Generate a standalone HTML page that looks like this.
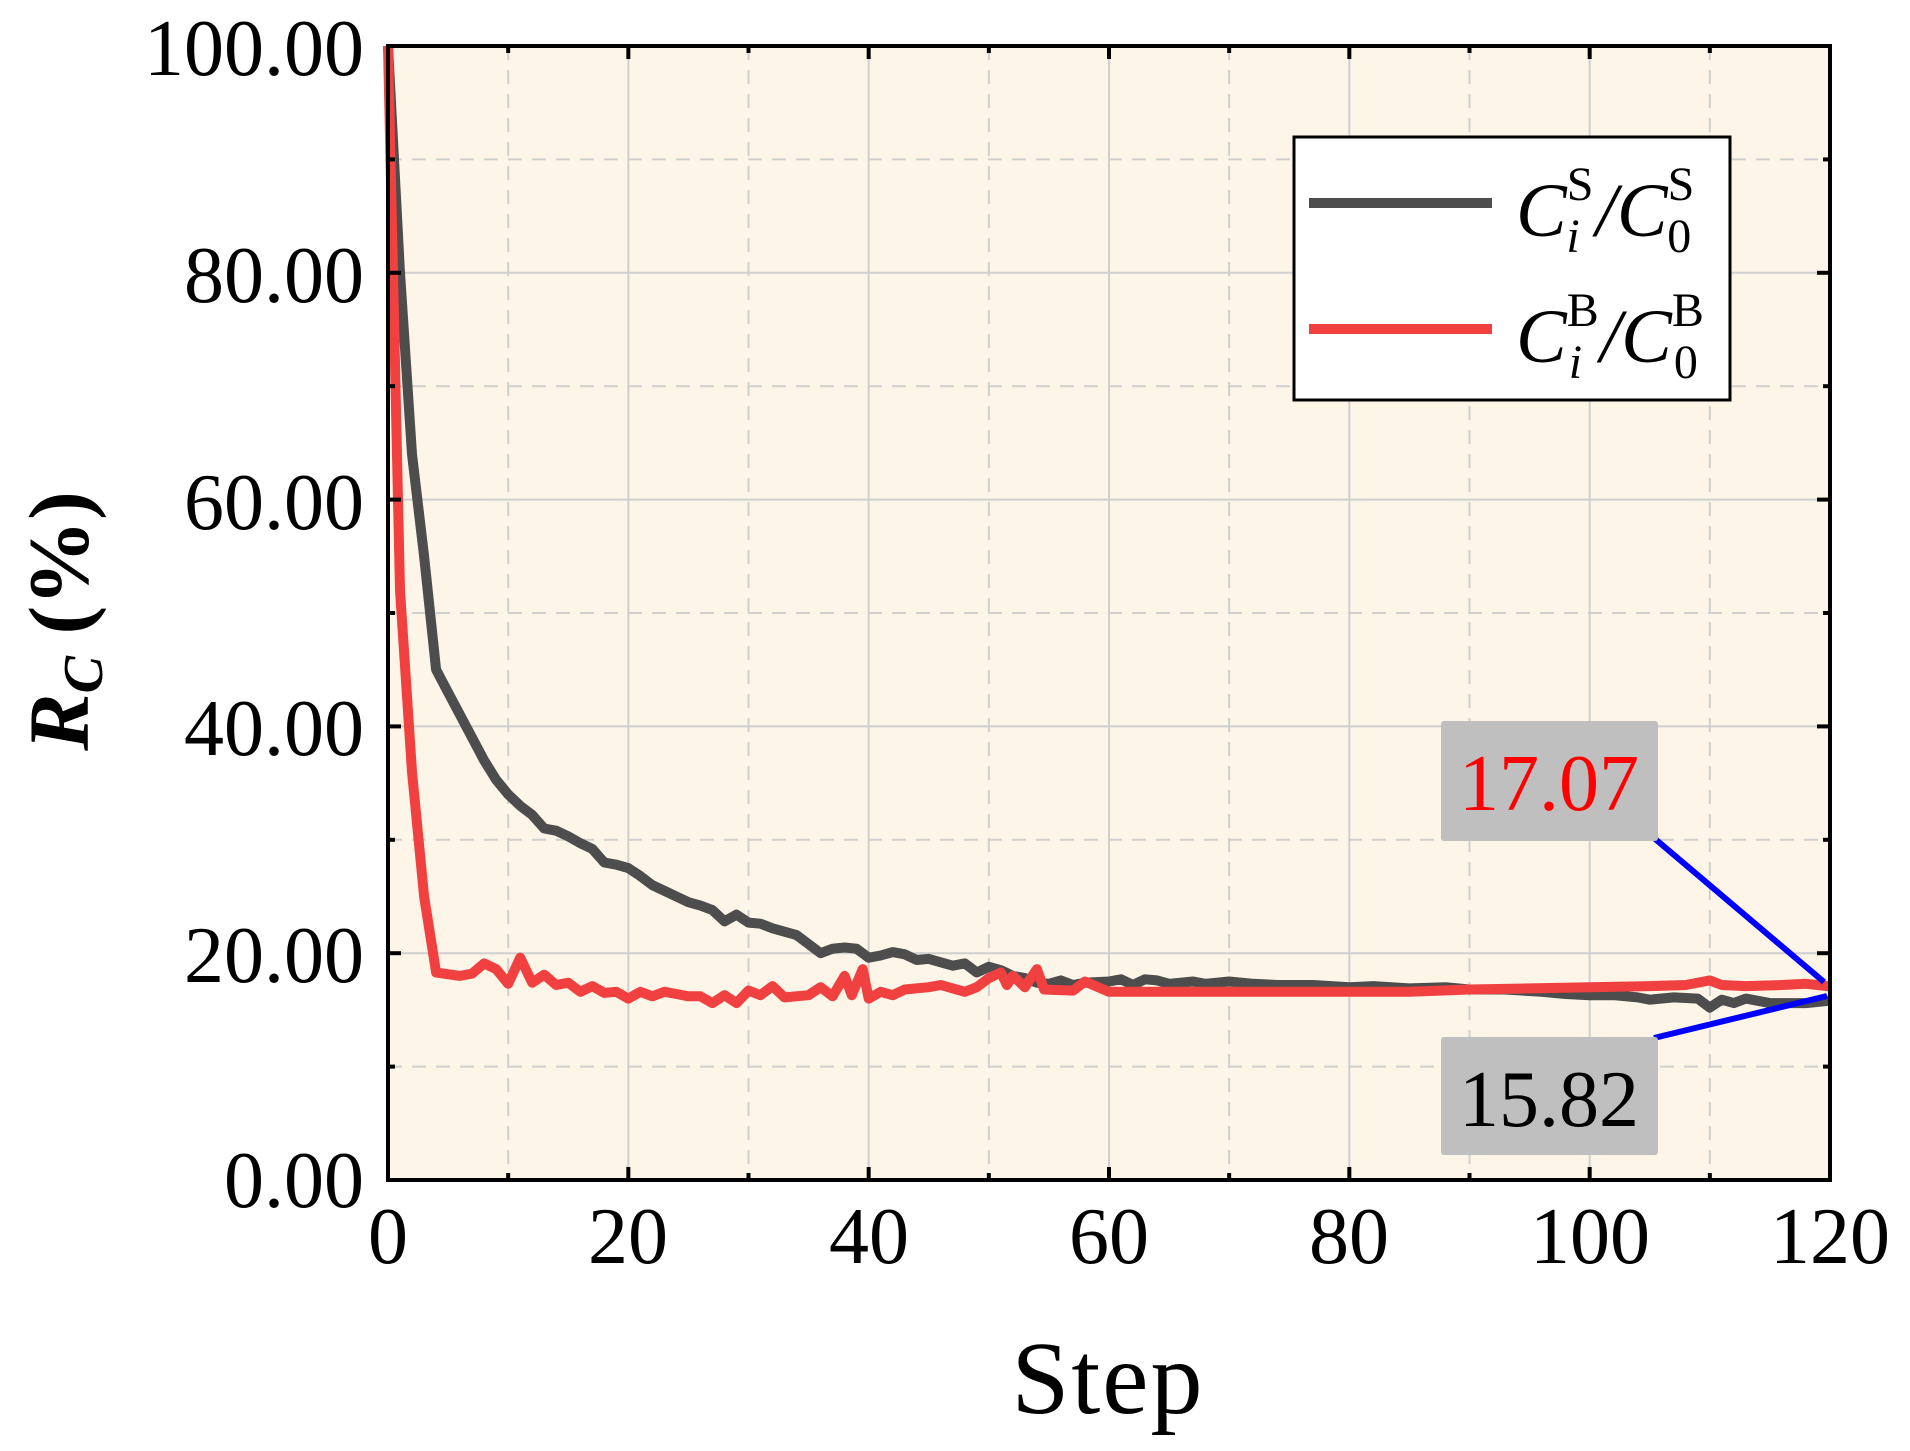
<!DOCTYPE html>
<html><head><meta charset="utf-8"><style>
html,body{margin:0;padding:0;background:#fff;}
svg{display:block;font-family:"Liberation Serif",serif;}
</style></head><body>
<svg id="s" width="1910" height="1451" viewBox="0 0 1910 1451" xmlns="http://www.w3.org/2000/svg">
<rect x="388" y="46" width="1442" height="1134" fill="#fdf6e8"/>
<g id="grid"></g>
<g id="series"></g>
<rect x="1294" y="137" width="436" height="263" fill="#fff" stroke="#000" stroke-width="3"/>
<line x1="1309" y1="203" x2="1492" y2="203" stroke="#4d4d4d" stroke-width="10"/>
<line x1="1309" y1="329" x2="1492" y2="329" stroke="#f04040" stroke-width="10"/>
<text x="1516" y="236" font-size="76" font-style="italic">C<tspan font-size="48" font-style="normal" dy="-36">S</tspan><tspan font-size="48" dx="-27" dy="52">i</tspan><tspan font-size="76" dx="16" dy="-16">/C</tspan><tspan font-size="48" font-style="normal" dy="-36">S</tspan><tspan font-size="48" font-style="normal" dx="-27" dy="52">0</tspan></text>
<text x="1516" y="362" font-size="76" font-style="italic">C<tspan font-size="48" font-style="normal" dy="-36">B</tspan><tspan font-size="48" dx="-30" dy="52">i</tspan><tspan font-size="76" dx="18" dy="-16">/C</tspan><tspan font-size="48" font-style="normal" dy="-36">B</tspan><tspan font-size="48" font-style="normal" dx="-30" dy="52">0</tspan></text>
<line x1="1654" y1="838" x2="1824" y2="982" stroke="#0000ff" stroke-width="6"/>
<line x1="1654" y1="1038" x2="1827" y2="996" stroke="#0000ff" stroke-width="6"/>
<rect x="1441" y="721" width="217" height="120" fill="#bfbfbf" rx="3"/>
<text x="1549" y="810" font-size="80" text-anchor="middle" fill="#ff0000">17.07</text>
<rect x="1441" y="1037" width="217" height="118" fill="#bfbfbf" rx="3"/>
<text x="1549" y="1126" font-size="80" text-anchor="middle" fill="#000">15.82</text>
<rect x="388" y="46" width="1442" height="1134" fill="none" stroke="#000" stroke-width="4"/>
<g id="ticks"></g>
<g font-size="80" text-anchor="end">
<text x="364" y="75">100.00</text>
<text x="364" y="302">80.00</text>
<text x="364" y="529">60.00</text>
<text x="364" y="755">40.00</text>
<text x="364" y="982">20.00</text>
<text x="364" y="1207">0.00</text>
</g>
<g font-size="80" text-anchor="middle">
<text x="388" y="1263">0</text>
<text x="628" y="1263">20</text>
<text x="869" y="1263">40</text>
<text x="1109" y="1263">60</text>
<text x="1349" y="1263">80</text>
<text x="1590" y="1263">100</text>
<text x="1830" y="1263">120</text>
</g>
<text x="1108" y="1413" font-size="104" text-anchor="middle" letter-spacing="2">Step</text>
<text transform="translate(88,621) rotate(-90)" font-size="86" font-weight="bold" text-anchor="middle"><tspan font-style="italic">R</tspan><tspan font-style="italic" font-size="56" dy="14">C</tspan><tspan dy="-14"> (%)</tspan></text>
</svg>
<script>
const X=v=>388+v*1442/120, Y=v=>1180-v*11.34;
const NS="http://www.w3.org/2000/svg";
function el(p,t,a){const e=document.createElementNS(NS,t);for(const k in a)e.setAttribute(k,a[k]);document.getElementById(p).appendChild(e);}
for(let i=1;i<12;i++){const x=X(i*10);el("grid","line",{x1:x,y1:46,x2:x,y2:1180,stroke:"#cfcfcf","stroke-width":2,"stroke-dasharray":i%2?"14,10":""});}
for(let i=1;i<10;i++){const y=Y(i*10);el("grid","line",{x1:388,y1:y,x2:1830,y2:y,stroke:"#cfcfcf","stroke-width":2,"stroke-dasharray":i%2?"14,10":""});}
for(let i=1;i<12;i++){const x=X(i*10),l=i%2?7:13;el("ticks","line",{x1:x,y1:1180,x2:x,y2:1180-l,stroke:"#000","stroke-width":4});el("ticks","line",{x1:x,y1:46,x2:x,y2:46+l,stroke:"#000","stroke-width":4});}
for(let i=1;i<10;i++){const y=Y(i*10),l=i%2?7:13;el("ticks","line",{x1:388,y1:y,x2:388+l,y2:y,stroke:"#000","stroke-width":4});el("ticks","line",{x1:1830,y1:y,x2:1830-l,y2:y,stroke:"#000","stroke-width":4});}
const g=[[0,100],[1,80],[2,64],[3,55],[4,45],[5,43],[6,41],[7,39],[8,37],[9,35.3],[10,34],[11,33],[12,32.2],[13,31],[14,30.8],[15,30.3],[16,29.7],[17,29.2],[18,28],[19,27.8],[20,27.5],[21,26.8],[22,26],[23,25.5],[24,25],[25,24.5],[26,24.2],[27,23.8],[28,22.8],[29,23.4],[30,22.7],[31,22.6],[32,22.2],[33,21.9],[34,21.6],[35,20.8],[36,20],[37,20.4],[38,20.5],[39,20.4],[40,19.6],[41,19.8],[42,20.1],[43,19.9],[44,19.4],[45,19.5],[46,19.2],[47,18.9],[48,19.1],[49,18.3],[50,18.8],[51,18.5],[52,18],[53,17.8],[54,17.4],[55,17.3],[56,17.6],[57,17.2],[58,17.4],[60,17.5],[61,17.7],[62,17.2],[63,17.7],[64,17.6],[65,17.3],[67,17.5],[68,17.3],[70,17.5],[72,17.3],[74,17.2],[77,17.2],[80,17],[82,17.1],[85,16.9],[88,17],[90,16.8],[93,16.8],[96,16.6],[98,16.4],[100,16.3],[102,16.3],[104,16.1],[105,15.9],[107,16.1],[109,16.0],[110,15.2],[111,15.9],[112,15.6],[113,16],[115,15.6],[118,15.6],[120,15.82]];
const r=[[0,100],[1,52],[2,36],[3,25],[4,18.3],[6,18],[7,18.2],[8,19.1],[9,18.6],[10,17.3],[11,19.6],[12,17.4],[13,18.1],[14,17.2],[15,17.4],[16,16.6],[17,17.1],[18,16.5],[19,16.6],[20,16],[21,16.6],[22,16.2],[23,16.6],[24,16.4],[25,16.2],[26,16.2],[27,15.6],[28,16.3],[29,15.6],[30,16.7],[31,16.3],[32,17.1],[33,16.1],[35,16.3],[36,17],[37,16.2],[38,18],[38.6,16.3],[39.5,18.6],[40,16],[41,16.6],[42,16.3],[43,16.8],[45,17],[46,17.2],[47,16.9],[48,16.6],[49,17],[50,17.8],[51,18.3],[51.5,17.2],[52,18],[53,17],[54,18.6],[54.6,16.8],[57,16.7],[58,17.5],[60,16.6],[70,16.6],[85,16.6],[90,16.8],[100,17],[105,17.1],[108,17.2],[110,17.6],[111,17.2],[113,17.1],[116,17.2],[118,17.3],[120,17.07]];
const pts=a=>a.map(p=>X(p[0]).toFixed(1)+","+Y(p[1]).toFixed(1)).join(" ");
el("series","polyline",{points:pts(g),fill:"none",stroke:"#4d4d4d","stroke-width":10,"stroke-linejoin":"round"});
el("series","polyline",{points:pts(r),fill:"none",stroke:"#f04040","stroke-width":10,"stroke-linejoin":"round"});
</script>
</body></html>
